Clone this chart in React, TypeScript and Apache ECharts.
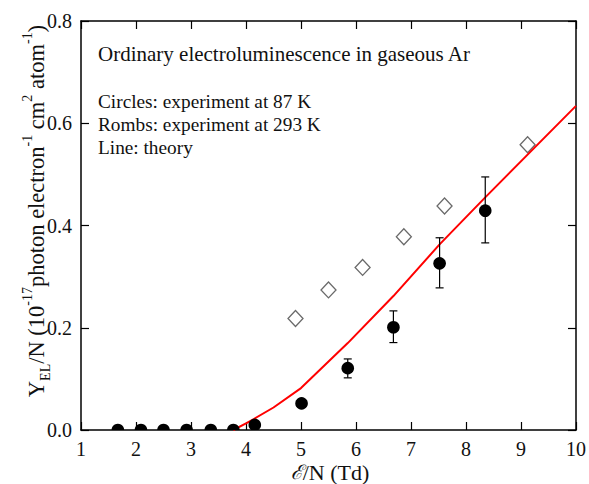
import React, { useEffect, useRef } from "react";
import * as echarts from "echarts";

// ---- data ----
const circleX = [1.67, 2.09, 2.5, 2.92, 3.36, 3.77, 4.16, 5.01, 5.85, 6.68, 7.52, 8.35];
const circleY = [0, 0, 0, 0, 0, 0, 0.01, 0.052, 0.121, 0.201, 0.326, 0.429];

const errX = [5.85, 6.68, 7.52, 8.35];
const errLow = [0.102, 0.171, 0.278, 0.366];
const errHigh = [0.139, 0.233, 0.376, 0.495];

const rombX = [4.9, 5.5, 6.12, 6.87, 7.61, 9.12];
const rombY = [0.218, 0.274, 0.318, 0.378, 0.438, 0.558];

const theoryX = [3.77, 4.0, 4.15, 4.5, 5.0, 5.85, 6.68, 7.52, 8.35, 10];
const theoryY = [0, 0.013, 0.022, 0.044, 0.082, 0.17, 0.262, 0.363, 0.455, 0.634];

const titleText = "Ordinary electroluminescence in gaseous Ar";
const legendLines = [
  "Circles: experiment at 87 K",
  "Rombs: experiment at 293 K",
  "Line: theory",
];

const FONT = "Liberation Serif";

export default function App() {
  const ref = useRef<HTMLDivElement>(null);
  useEffect(() => {
    if (!ref.current) return;
    const chart = echarts.init(ref.current, null, { renderer: "svg" });

    const frameLine = { show: true, lineStyle: { color: "#000", width: 1.5 } };
    const tick = { show: true, inside: true, length: 8, lineStyle: { color: "#000", width: 1.2 } };

    chart.setOption({
      animation: false,
      backgroundColor: "#fff",
      textStyle: { fontFamily: FONT },
      grid: { left: 81, right: 12, top: 21, bottom: 54, containLabel: false },
      xAxis: [
        {
          type: "value",
          min: 1,
          max: 10,
          interval: 1,
          axisLine: { ...frameLine, onZero: false },
          axisTick: tick,
          splitLine: { show: false },
          axisLabel: { fontFamily: FONT, fontSize: 20, color: "#111", margin: 9 },
        },
        {
          type: "value",
          position: "top",
          min: 1,
          max: 10,
          interval: 1,
          axisLine: { ...frameLine, onZero: false },
          axisTick: tick,
          splitLine: { show: false },
          axisLabel: { show: false },
        },
      ],
      yAxis: [
        {
          type: "value",
          min: 0,
          max: 0.8,
          interval: 0.2,
          axisLine: { ...frameLine, onZero: false },
          axisTick: tick,
          splitLine: { show: false },
          axisLabel: {
            fontFamily: FONT,
            fontSize: 20,
            color: "#111",
            margin: 9,
            formatter: (v: number) => v.toFixed(1),
          },
        },
        {
          type: "value",
          position: "right",
          min: 0,
          max: 0.8,
          interval: 0.2,
          axisLine: { ...frameLine, onZero: false },
          axisTick: tick,
          splitLine: { show: false },
          axisLabel: { show: false },
        },
      ],
      series: [
        {
          type: "scatter",
          name: "293 K",
          symbol: "diamond",
          symbolSize: [15, 16],
          itemStyle: { color: "#fff", borderColor: "#444", borderWidth: 1.3 },
          data: rombX.map((x, i) => [x, rombY[i]]),
          z: 3,
        },
        {
          type: "line",
          name: "theory",
          showSymbol: false,
          symbol: "none",
          lineStyle: { color: "#ff0000", width: 2 },
          data: theoryX.map((x, i) => [x, theoryY[i]]),
          z: 4,
        },
        {
          type: "custom",
          name: "errors",
          clip: true,
          encode: { x: 0, y: [1, 2] },
          data: errX.map((x, i) => [x, errLow[i], errHigh[i]]),
          renderItem: (params: any, api: any) => {
            const x = api.value(0);
            const lo = api.coord([x, api.value(1)]);
            const hi = api.coord([x, api.value(2)]);
            const c = 4;
            const st = { stroke: "#000", lineWidth: 1.2 };
            return {
              type: "group",
              children: [
                { type: "line", shape: { x1: lo[0], y1: lo[1], x2: hi[0], y2: hi[1] }, style: st },
                { type: "line", shape: { x1: lo[0] - c, y1: lo[1], x2: lo[0] + c, y2: lo[1] }, style: st },
                { type: "line", shape: { x1: hi[0] - c, y1: hi[1], x2: hi[0] + c, y2: hi[1] }, style: st },
              ],
            };
          },
          z: 5,
        },
        {
          type: "custom",
          name: "87 K",
          clip: true,
          encode: { x: 0, y: 1 },
          data: circleX.map((x, i) => [x, circleY[i]]),
          renderItem: (params: any, api: any) => {
            const p = api.coord([api.value(0), api.value(1)]);
            return {
              type: "circle",
              shape: { cx: p[0], cy: p[1], r: 6.3 },
              style: { fill: "#000" },
            };
          },
          z: 6,
        },
      ],
      graphic: [
        {
          type: "text",
          x: 98,
          y: 54,
          style: {
            text: titleText,
            fontFamily: FONT,
            fontSize: 21,
            fill: "#111",
            verticalAlign: "middle",
          },
        },
        ...legendLines.map((t, i) => ({
          type: "text",
          x: 98,
          y: 101 + i * 23,
          style: {
            text: t,
            fontFamily: FONT,
            fontSize: 19.3,
            fill: "#111",
            verticalAlign: "middle",
          },
        })),
        {
          type: "text",
          x: 330,
          y: 472,
          style: {
            text: "{s|ℰ}{a|/N (Td)}",
            align: "center",
            verticalAlign: "middle",
            rich: {
              s: { fontFamily: "DejaVu Serif", fontStyle: "italic", fontSize: 20, fill: "#111" },
              a: { fontFamily: FONT, fontSize: 22, fill: "#111" },
            },
          },
        },
        {
          type: "text",
          x: 36,
          y: 211,
          rotation: Math.PI / 2,
          style: {
            text: "{a|Y}{sub|EL}{a|/N (10}{sup|-17}{a|photon electron}{sup|-1}{a| cm}{sup|2}{a| atom}{sup|-1}{a|)}",
            align: "center",
            verticalAlign: "middle",
            rich: {
              a: { fontFamily: FONT, fontSize: 22.5, lineHeight: 32, fill: "#111" },
              sup: { fontFamily: FONT, fontSize: 14, lineHeight: 15, verticalAlign: "top", fill: "#111" },
              sub: { fontFamily: FONT, fontSize: 14, lineHeight: 15, verticalAlign: "bottom", fill: "#111" },
            },
          },
        },
      ],
    });
    return () => chart.dispose();
  }, []);
  return (
    <div
      ref={ref}
      style={{ position: "absolute", left: 0, top: 0, width: 589, height: 484 }}
    />
  );
}
